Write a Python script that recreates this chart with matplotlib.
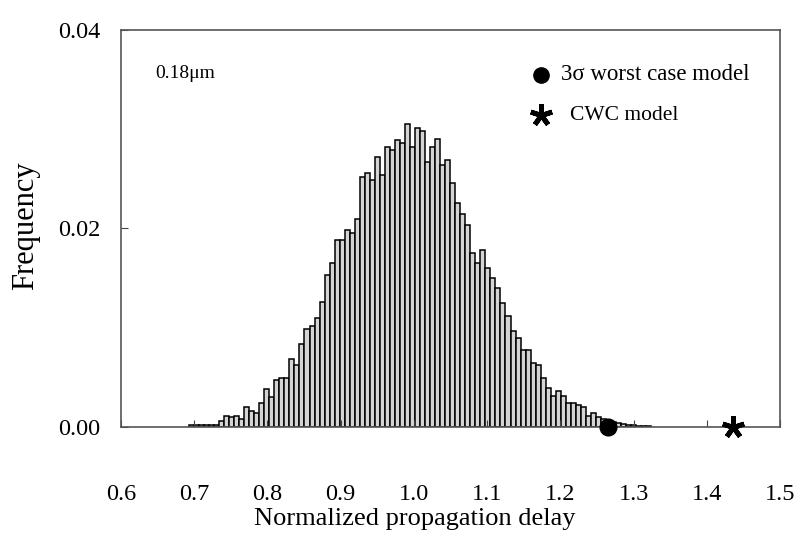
import numpy as np
import matplotlib.pyplot as plt

plt.rcParams['font.family'] = ['Liberation Serif', 'DejaVu Serif']

# histogram of normalized delay (bin width ~0.00686, first bins start near 0.69)
bin_w = 0.00686
x_start = 0.6928
freq = [0.0002, 0.0002, 0.0002, 0.0002, 0.0002, 0.0002,
        0.0006, 0.0011, 0.0010, 0.0011, 0.0008, 0.0020, 0.0016, 0.0014,
        0.0024, 0.0038, 0.0030, 0.0047, 0.0049, 0.0049, 0.0069, 0.0062,
        0.0084, 0.0099, 0.0102, 0.0110, 0.0126, 0.0153, 0.0165, 0.0188,
        0.0188, 0.0198, 0.0195, 0.0210, 0.0252, 0.0256, 0.0249, 0.0272,
        0.0254, 0.0282, 0.0279, 0.0289, 0.0286, 0.0305, 0.0282, 0.0301,
        0.0298, 0.0267, 0.0282, 0.0290, 0.0264, 0.0269, 0.0246, 0.0226,
        0.0215, 0.0204, 0.0175, 0.0165, 0.0178, 0.0160, 0.0150, 0.0140,
        0.0125, 0.0112, 0.0097, 0.0090, 0.0078, 0.0078, 0.0064, 0.0062,
        0.0049, 0.0039, 0.0031, 0.0036, 0.0031, 0.0024, 0.0024, 0.0022,
        0.0020, 0.0011, 0.0014, 0.0010, 0.0008, 0.0006, 0.0005, 0.0004,
        0.0003, 0.0002, 0.0002, 0.0001, 0.0001, 0.0001]
edges = x_start + bin_w * np.arange(len(freq))

worst_x, worst_y = 1.265, 0.0
cwc_x, cwc_y = 1.435, 0.0

xticks = [0.6, 0.7, 0.8, 0.9, 1.0, 1.1, 1.2, 1.3, 1.4, 1.5]
yticks = [0.00, 0.02, 0.04]

fig = plt.figure(figsize=(8.01, 5.36), dpi=100)
ax = fig.add_axes([0.151, 0.2034, 0.823, 0.7406])

ax.bar(edges, freq, width=bin_w, align='edge', facecolor='#d4d4d4',
       edgecolor='black', linewidth=1.1)

ax.plot(worst_x, worst_y, 'o', color='black', markersize=12, clip_on=False, zorder=5)
ax.plot(cwc_x, cwc_y, marker=(5, 2, 0), color='black', markersize=16,
        markeredgewidth=3.5, linestyle='none', clip_on=False, zorder=5)

# legend drawn by hand
ax.plot(0.637, 0.887, 'o', color='black', markersize=11, transform=ax.transAxes, clip_on=False)
ax.text(0.667, 0.887, '3σ worst case model', transform=ax.transAxes,
        fontsize=16.5, va='center', ha='left')
ax.plot(0.637, 0.785, marker=(5, 2, 0), color='black', markersize=16,
        markeredgewidth=3.5, transform=ax.transAxes, clip_on=False)
ax.text(0.681, 0.785, 'CWC model', transform=ax.transAxes,
        fontsize=15.5, va='center', ha='left')

ax.text(0.052, 0.89, '0.18μm', transform=ax.transAxes, fontsize=14,
        va='center', ha='left')

ax.set_xlim(0.6, 1.5)
ax.set_ylim(0, 0.04)
ax.set_xticks(xticks)
ax.set_xticklabels(['%.1f' % v for v in xticks])
ax.set_yticks(yticks)
ax.set_yticklabels(['%.2f' % v for v in yticks])
ax.tick_params(direction='in', length=5, labelsize=17.5, color='#444444')
ax.tick_params(axis='x', pad=41)
ax.tick_params(axis='y', pad=15)

for s in ax.spines.values():
    s.set_color('#555555')
    s.set_linewidth(1.2)

ax.set_xlabel('Normalized propagation delay', fontsize=19)
ax.set_ylabel('Frequency', fontsize=22)
ax.xaxis.set_label_coords(0.446, -0.205)
ax.yaxis.set_label_coords(-0.123, 0.506)

fig.savefig('out.png', dpi=100)
